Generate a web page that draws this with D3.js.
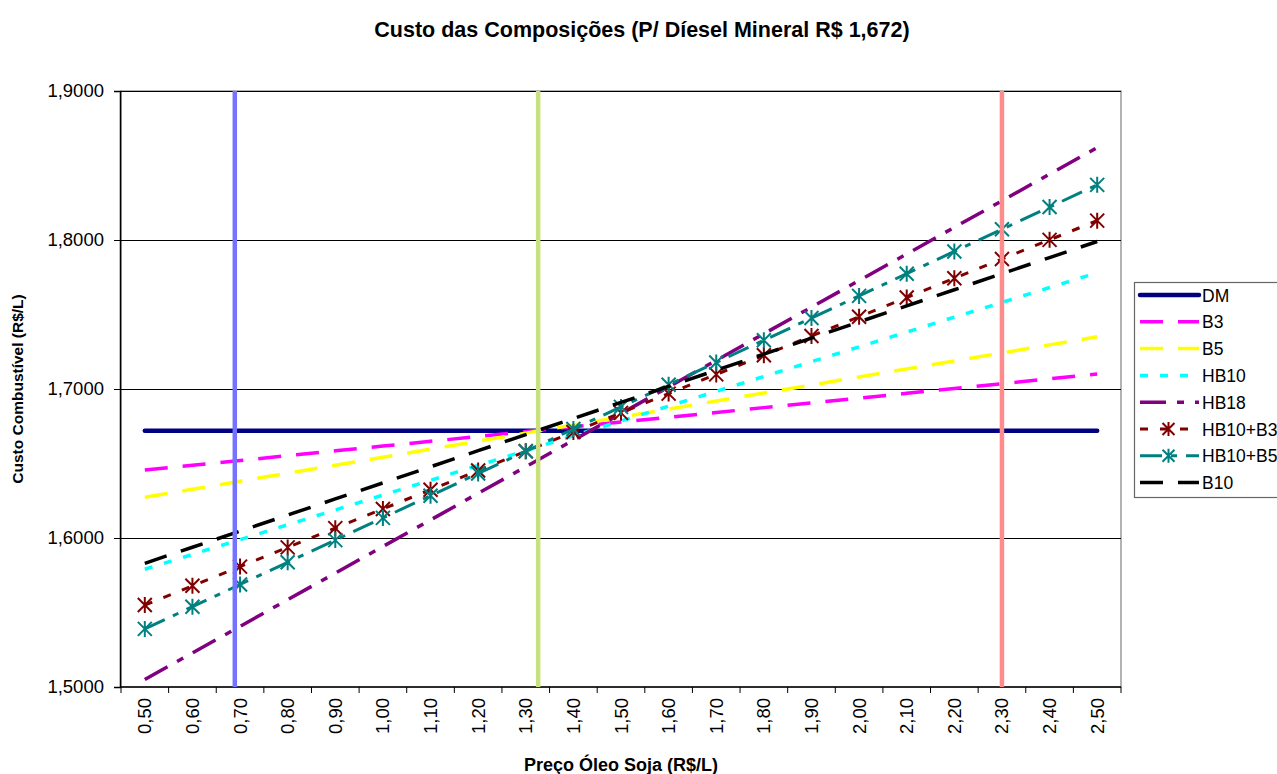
<!DOCTYPE html>
<html>
<head>
<meta charset="utf-8">
<script src="https://cdn.jsdelivr.net/npm/d3@7"></script>
<style>
  html, body { margin: 0; padding: 0; background: #fff; overflow: hidden; }
  svg { display: block; font-family: Arial, "Liberation Sans", sans-serif; }
</style>
</head>
<body>
<svg id="chart" width="1277" height="774"></svg>
<script>
// ---------- DATA ----------
const categories = [0.50,0.60,0.70,0.80,0.90,1.00,1.10,1.20,1.30,1.40,1.50,1.60,1.70,1.80,1.90,2.00,2.10,2.20,2.30,2.40,2.50];
const tickLabelsX = ["0,50","0,60","0,70","0,80","0,90","1,00","1,10","1,20","1,30","1,40","1,50","1,60","1,70","1,80","1,90","2,00","2,10","2,20","2,30","2,40","2,50"];
const yTicks = [1.5, 1.6, 1.7, 1.8, 1.9];
const yTickLabels = ["1,5000","1,6000","1,7000","1,8000","1,9000"];

const DM      = [1.672,1.672,1.672,1.672,1.672,1.672,1.672,1.672,1.672,1.672,1.672,1.672,1.672,1.672,1.672,1.672,1.672,1.672,1.672,1.672,1.672];
const B3      = [1.6456,1.6488,1.6520,1.6553,1.6585,1.6617,1.6649,1.6681,1.6714,1.6746,1.6778,1.6810,1.6842,1.6875,1.6907,1.6939,1.6971,1.7003,1.7036,1.7068,1.7100];
const B5      = [1.6273,1.6327,1.6381,1.6435,1.6488,1.6542,1.6596,1.6650,1.6704,1.6758,1.6812,1.6865,1.6919,1.6973,1.7027,1.7081,1.7135,1.7188,1.7242,1.7296,1.7350];
const HB10    = [1.5790,1.5890,1.5989,1.6089,1.6188,1.6288,1.6387,1.6487,1.6586,1.6686,1.6785,1.6885,1.6984,1.7084,1.7183,1.7283,1.7382,1.7482,1.7581,1.7681,1.7780];
const HB18    = [1.5050,1.5229,1.5407,1.5586,1.5764,1.5943,1.6121,1.6300,1.6478,1.6657,1.6835,1.7014,1.7192,1.7371,1.7549,1.7728,1.7906,1.8085,1.8263,1.8442,1.8620];
const HB10B3  = [1.5550,1.5679,1.5808,1.5937,1.6066,1.6195,1.6324,1.6453,1.6582,1.6711,1.6840,1.6969,1.7098,1.7227,1.7356,1.7485,1.7614,1.7743,1.7872,1.8001,1.8130];
const HB10B5  = [1.5390,1.5539,1.5688,1.5837,1.5986,1.6135,1.6284,1.6433,1.6582,1.6731,1.6880,1.7029,1.7178,1.7327,1.7476,1.7625,1.7774,1.7923,1.8072,1.8221,1.8370];
const B10     = [1.5830,1.5938,1.6046,1.6154,1.6262,1.6370,1.6478,1.6586,1.6694,1.6802,1.6910,1.7018,1.7126,1.7234,1.7342,1.7450,1.7558,1.7666,1.7774,1.7882,1.7990];

const seriesNames = ["DM","B3","B5","HB10","HB18","HB10+B3","HB10+B5","B10"];
const seriesValues = [DM, B3, B5, HB10, HB18, HB10B3, HB10B5, B10];

// reference vertical markers (oil price values)
const refLineValues = [0.689, 1.326, 2.30];

// ---------- STYLES ----------
const seriesStyles = [
  {color:"#000080", width:4.5, dash:null, marker:false},
  {color:"#FF00FF", width:3.5, dash:"23,15", marker:false},
  {color:"#FFFF00", width:3.5, dash:"23,15", marker:false},
  {color:"#00FFFF", width:3.5, dash:"8,12", marker:false},
  {color:"#800080", width:3.5, dash:"26,11,7,11", marker:false},
  {color:"#800000", width:3, dash:"8,12", marker:true},
  {color:"#008080", width:3, dash:"22,9,6,9", marker:true},
  {color:"#000000", width:3.5, dash:"23,15", marker:false}
];
const refLineColors = ["#7373ff","#c8e07e","#ff8c8c"];

// ---------- LAYOUT ----------
const svg = d3.select("#chart");
const plot = {left:121, right:1121, top:91, bottom:687};

const xBand = d3.scaleBand().domain(categories.map(String)).range([plot.left, plot.right]).padding(0);
const xLin = d3.scaleLinear().domain([categories[0] - 0.05, categories[categories.length-1] + 0.05]).range([plot.left, plot.right]);
const y = d3.scaleLinear().domain([1.5, 1.9]).range([plot.bottom, plot.top]);

// plot area border (grey)
svg.append("rect")
  .attr("x", plot.left).attr("y", plot.top)
  .attr("width", plot.right - plot.left).attr("height", plot.bottom - plot.top)
  .attr("fill", "#fff").attr("stroke", "#808080").attr("stroke-width", 1.2);

// gridlines
svg.append("g").selectAll("line").data(yTicks.slice(1)).join("line")
  .attr("x1", plot.left).attr("x2", plot.right)
  .attr("y1", d => Math.round(y(d)) + 0.5).attr("y2", d => Math.round(y(d)) + 0.5)
  .attr("stroke", "#000").attr("stroke-width", 1);

// y axis
const yAxis = d3.axisLeft(y).tickValues(yTicks).tickFormat((d,i) => yTickLabels[i]).tickSize(6).tickPadding(10);
const gy = svg.append("g").attr("transform", `translate(${plot.left - 1},0)`).call(yAxis);
gy.select(".domain").attr("stroke", "#000").attr("stroke-width", 1.5);
gy.selectAll(".tick line").attr("stroke", "#000");
gy.selectAll(".tick text").attr("font-size", 18.5).attr("font-family", "Arial, 'Liberation Sans', sans-serif").attr("fill", "#000");

// x axis: labels at band centers, ticks at band edges
const gx = svg.append("g").attr("transform", `translate(0,${plot.bottom})`);
gx.append("line").attr("x1", plot.left - 1).attr("x2", plot.right).attr("y1", 0).attr("y2", 0)
  .attr("stroke", "#000").attr("stroke-width", 1.5);
const edges = categories.map(c => xBand(String(c))).concat([xBand.range()[1]]);
gx.selectAll(".tk").data(edges).join("line").attr("class","tk")
  .attr("x1", d => d).attr("x2", d => d).attr("y1", 0).attr("y2", 6)
  .attr("stroke", "#000").attr("stroke-width", 1);
gx.selectAll(".lbl").data(categories).join("text").attr("class","lbl")
  .attr("transform", d => `translate(${xBand(String(d)) + xBand.bandwidth()/2 + 6.5},${11}) rotate(-90)`)
  .attr("text-anchor", "end")
  .attr("font-size", 18.5)
  .text((d,i) => tickLabelsX[i]);

// series
const line = d3.line().x((d,i) => xBand(String(categories[i])) + xBand.bandwidth()/2).y(d => y(d));
const gs = svg.append("g");
seriesValues.forEach((vals, k) => {
  const st = seriesStyles[k];
  gs.append("path").datum(vals)
    .attr("d", line)
    .attr("fill", "none")
    .attr("stroke", st.color)
    .attr("stroke-width", st.width)
    .attr("stroke-dasharray", st.dash)
    .attr("stroke-linecap", k === 0 ? "round" : "butt");
  if (st.marker) {
    const m = gs.append("g");
    vals.forEach((v, i) => {
      const cx = xBand(String(categories[i])) + xBand.bandwidth()/2, cy = y(v), r = 7;
      m.append("path")
        .attr("d", `M${cx-r},${cy-r}L${cx+r},${cy+r}M${cx-r},${cy+r}L${cx+r},${cy-r}M${cx},${cy-r-1}L${cx},${cy+r+1}`)
        .attr("stroke", st.color).attr("stroke-width", 2).attr("fill","none");
    });
  }
});

// reference vertical lines
svg.append("g").selectAll("line").data(refLineValues).join("line")
  .attr("x1", d => xLin(d)).attr("x2", d => xLin(d))
  .attr("y1", plot.top).attr("y2", plot.bottom)
  .attr("stroke", (d,i) => refLineColors[i]).attr("stroke-width", 4.5);

// title
svg.append("text").attr("x", 642).attr("y", 37).attr("text-anchor", "middle")
  .attr("font-size", 21.5).attr("font-weight", "bold")
  .text("Custo das Composições (P/ Díesel Mineral R$ 1,672)");

// axis titles
svg.append("text").attr("x", 621).attr("y", 771).attr("text-anchor", "middle")
  .attr("font-size", 18).attr("font-weight", "bold")
  .text("Preço Óleo Soja (R$/L)");
svg.append("text").attr("transform", "translate(23,389) rotate(-90)").attr("text-anchor", "middle")
  .attr("font-size", 15.5).attr("font-weight", "bold")
  .text("Custo Combustível (R$/L)");

// legend
const lg = svg.append("g");
lg.append("rect").attr("x", 1134.5).attr("y", 282.5).attr("width", 160).attr("height", 215)
  .attr("fill", "#fff").attr("stroke", "#666").attr("stroke-width", 1.2);
seriesNames.forEach((name, k) => {
  const st = seriesStyles[k];
  const yy = 295 + k * 26.8;
  lg.append("line").attr("x1", 1140).attr("x2", 1199).attr("y1", yy).attr("y2", yy)
    .attr("stroke", st.color).attr("stroke-width", st.width)
    .attr("stroke-dasharray", st.dash)
    .attr("stroke-linecap", k === 0 ? "round" : "butt");
  if (st.marker) {
    const cx = 1168.5, r = 6;
    lg.append("path")
      .attr("d", `M${cx-r},${yy-r}L${cx+r},${yy+r}M${cx-r},${yy+r}L${cx+r},${yy-r}M${cx},${yy-r-1}L${cx},${yy+r+1}`)
      .attr("stroke", st.color).attr("stroke-width", 2).attr("fill","none");
  }
  lg.append("text").attr("x", 1202).attr("y", yy + 6.5).attr("font-size", 17.5).text(name);
});
</script>
</body>
</html>
